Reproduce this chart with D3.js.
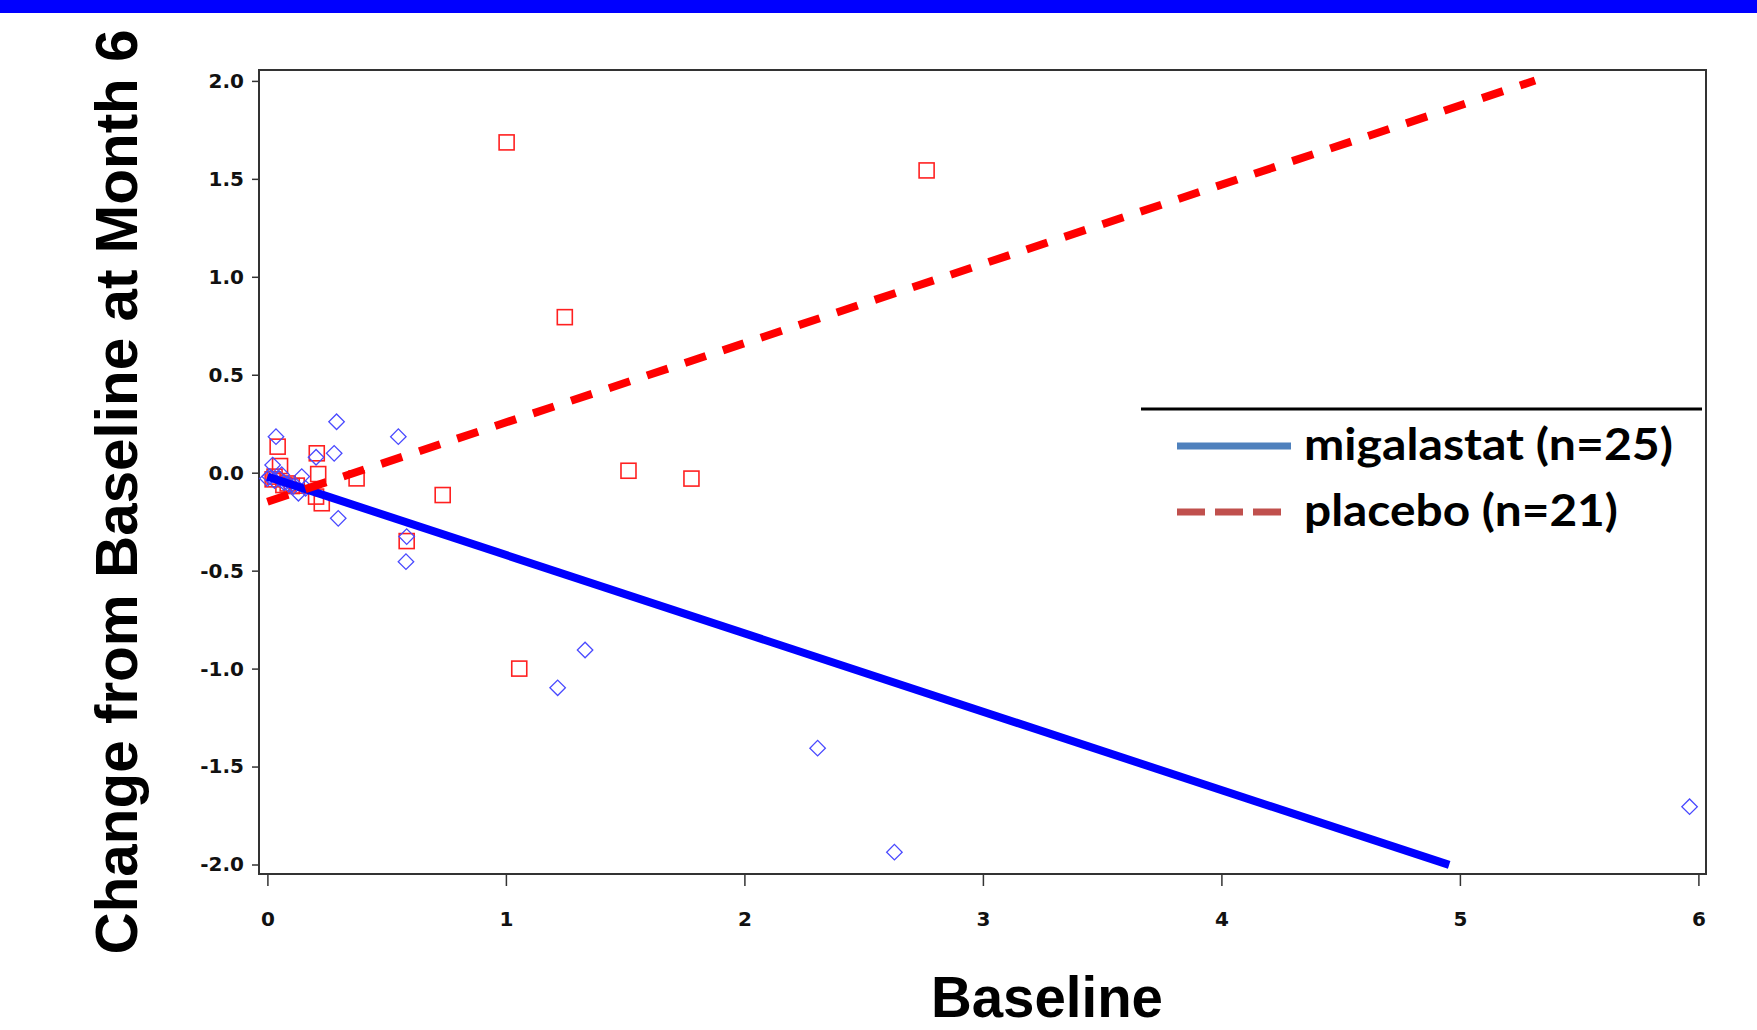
<!DOCTYPE html>
<html>
<head>
<meta charset="utf-8">
<script src="https://cdn.jsdelivr.net/npm/d3@7"></script>
<style>
  body { margin: 0; background: #fff; }
  svg { display: block; }
</style>
</head>
<body>
<svg id="chart" width="1757" height="1030"></svg>
<script>
// scatter points
var migX = [0.036, 0.29, 0.549, 0.28, 0.204, 0.022, 0.144, 0.13, 0.297, 0.584, 0.581, 0.0,
            1.332, 1.217, 2.307, 2.629, 5.963,
            0.01, 0.03, 0.05, 0.07, 0.09, 0.11, 0.16, 0.06];
var migY = [0.184, 0.26, 0.184, 0.099, 0.079, 0.039, -0.02, -0.105, -0.233, -0.326, -0.454, -0.03,
            -0.905, -1.098, -1.406, -1.937, -1.705,
            -0.02, -0.04, -0.03, -0.05, -0.06, -0.07, -0.08, -0.01];
var plaX = [1.003, 2.764, 1.247, 1.514, 1.778, 0.735, 1.056, 0.584, 0.374, 0.207, 0.213,
            0.204, 0.228, 0.043, 0.053, 0.022, 0.067, 0.102, 0.123, 0.085, 0.03];
var plaY = [1.686, 1.543, 0.794, 0.01, -0.03, -0.114, -1.0, -0.349, -0.029, 0.099, -0.007,
            -0.122, -0.156, 0.133, 0.034, -0.034, -0.063, -0.068, -0.066, -0.055, -0.02];

// fitted lines
var fitNames = ["migalastat (n=25)", "placebo (n=21)"];
var fitIntercept = [-0.02, -0.148];
var fitSlope = [-0.4, 0.4045];
var fitXEnd = [4.955, 5.315];

var xTicks = [0, 1, 2, 3, 4, 5, 6];
var yTicks = [-2.0, -1.5, -1.0, -0.5, 0.0, 0.5, 1.0, 1.5, 2.0];

var svg = d3.select("#chart");

// blue band at top
svg.append("rect").attr("x", 0).attr("y", 0).attr("width", 1757).attr("height", 13).attr("fill", "#0000ff");

var frameL = 259, frameR = 1706, frameT = 70, frameB = 874;
var x = d3.scaleLinear().domain([0, 6]).range([267.4, 1698.4]);
var y = d3.scaleLinear().domain([-2, 2]).range([864.5, 80.9]);

// frame
svg.append("rect")
  .attr("x", frameL).attr("y", frameT)
  .attr("width", frameR - frameL).attr("height", frameB - frameT)
  .attr("fill", "none").attr("stroke", "#333").attr("stroke-width", 2);

var tickFont = "'DejaVu Sans', sans-serif";
var fmt1 = function(d){ return d.toFixed(1); }; // plain hyphen for minus

// y axis
var yAxis = svg.append("g")
  .attr("transform", "translate(" + frameL + ",0)")
  .call(d3.axisLeft(y).tickValues(yTicks).tickFormat(fmt1).tickSize(7).tickPadding(8));
yAxis.select(".domain").remove();
yAxis.selectAll("line").attr("stroke", "#333").attr("stroke-width", 1.5);
yAxis.selectAll("text").attr("font-family", tickFont).attr("font-weight", "bold").attr("font-size", 20).attr("fill", "#111");

// x axis
var xAxis = svg.append("g")
  .attr("transform", "translate(0," + frameB + ")")
  .call(d3.axisBottom(x).tickValues(xTicks).tickFormat(d3.format("d")).tickSize(12).tickPadding(26));
xAxis.select(".domain").remove();
xAxis.selectAll("line").attr("stroke", "#333").attr("stroke-width", 1.5);
xAxis.selectAll("text").attr("font-family", tickFont).attr("font-weight", "bold").attr("font-size", 20).attr("fill", "#111");

// regression lines
var lineColors = ["#0000ff", "#ff0000"];
var fits = fitNames.map(function(n, i){
  return { name: n, pts: [[0, fitIntercept[i]], [fitXEnd[i], fitIntercept[i] + fitSlope[i] * fitXEnd[i]]], i: i };
});
var line = d3.line().x(function(d){ return x(d[0]); }).y(function(d){ return y(d[1]); });

// markers
var plaPts = plaX.map(function(v, i){ return [v, plaY[i]]; });
var migPts = migX.map(function(v, i){ return [v, migY[i]]; });

svg.append("g").selectAll("rect")
  .data(plaPts).enter().append("rect")
  .attr("x", function(d){ return x(d[0]) - 7.5; })
  .attr("y", function(d){ return y(d[1]) - 7.5; })
  .attr("width", 15).attr("height", 15)
  .attr("fill", "none").attr("stroke", "#ff2020").attr("stroke-width", 1.6);

svg.append("g").selectAll("path")
  .data(migPts).enter().append("path")
  .attr("d", d3.symbol().type(d3.symbolSquare).size(120))
  .attr("transform", function(d){ return "translate(" + x(d[0]) + "," + y(d[1]) + ") rotate(45)"; })
  .attr("fill", "none").attr("stroke", "#4a4aff").attr("stroke-width", 1.3);

svg.append("g").selectAll("path")
  .data(fits).enter().append("path")
  .attr("d", function(d){ return line(d.pts); })
  .attr("fill", "none")
  .attr("stroke", function(d){ return lineColors[d.i]; })
  .attr("stroke-width", 8)
  .attr("stroke-dasharray", function(d){ return d.i == 1 ? "22,18" : null; });

// axis titles
var titleFont = "'Liberation Sans', Arial, sans-serif";
svg.append("text")
  .attr("transform", "translate(137,492) rotate(-90)")
  .attr("text-anchor", "middle")
  .attr("font-family", titleFont).attr("font-weight", "bold").attr("font-size", 60)
  .attr("textLength", 925).attr("lengthAdjust", "spacingAndGlyphs")
  .text("Change from Baseline at Month 6");

svg.append("text")
  .attr("x", 1047).attr("y", 1017)
  .attr("text-anchor", "middle")
  .attr("font-family", titleFont).attr("font-weight", "bold").attr("font-size", 58)
  .attr("textLength", 232).attr("lengthAdjust", "spacingAndGlyphs")
  .text("Baseline");

// legend
var legend = svg.append("g");
legend.append("line").attr("x1", 1141).attr("x2", 1702).attr("y1", 409).attr("y2", 409)
  .attr("stroke", "#000").attr("stroke-width", 3);
var legColors = ["#4f81bd", "#c0504d"];
var legY = [446, 512];
var legLen = [369, 314];
fitNames.forEach(function(n, i){
  legend.append("line")
    .attr("x1", 1177).attr("x2", i == 0 ? 1291 : 1282)
    .attr("y1", legY[i]).attr("y2", legY[i])
    .attr("stroke", legColors[i]).attr("stroke-width", 7)
    .attr("stroke-dasharray", i == 1 ? "28,10" : null);
  legend.append("text")
    .attr("x", 1304).attr("y", legY[i] + 14)
    .attr("font-family", "Lato, 'Open Sans', sans-serif").attr("font-weight", "bold").attr("font-size", 44)
    .attr("textLength", legLen[i]).attr("lengthAdjust", "spacingAndGlyphs")
    .attr("fill", "#000")
    .text(n);
});
</script>
</body>
</html>
